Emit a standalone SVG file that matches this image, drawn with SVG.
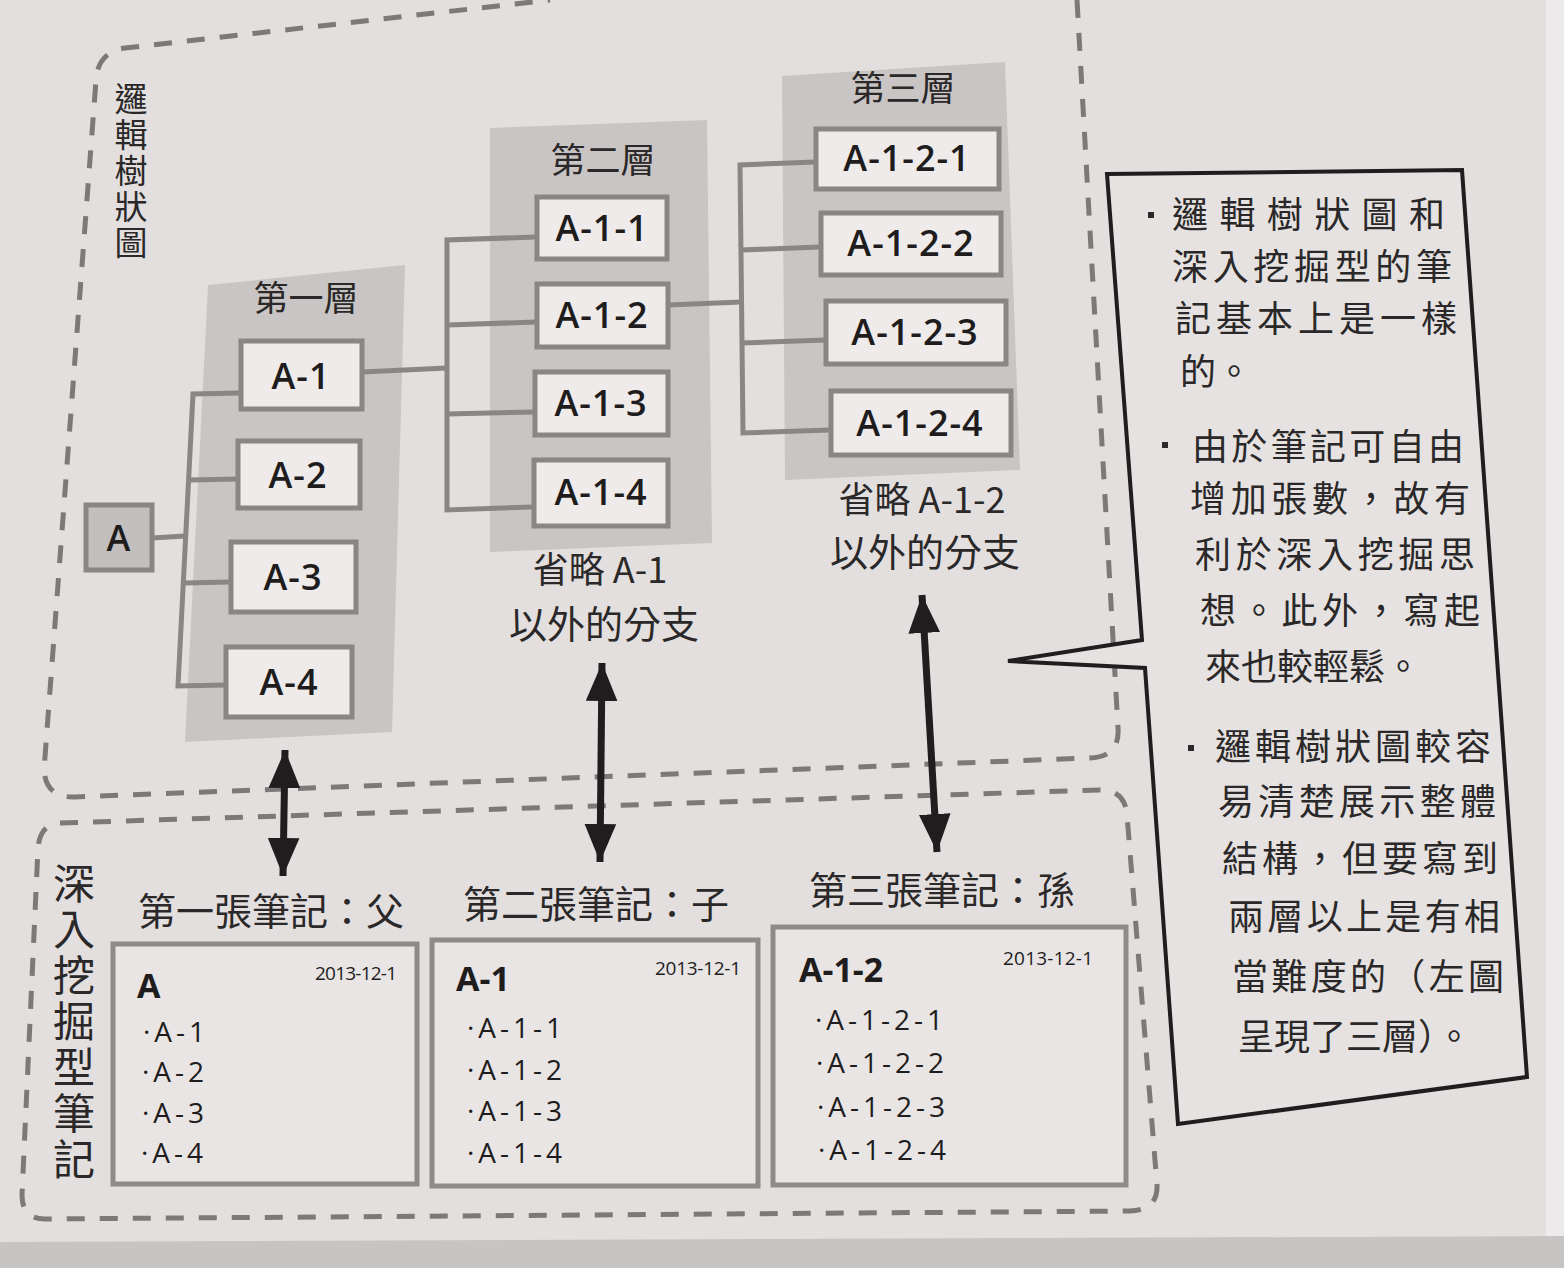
<svg xmlns="http://www.w3.org/2000/svg" width="1564" height="1268" viewBox="0 0 1564 1268">
<style>
.cjk{font-family:"Noto Sans CJK TC","Noto Sans CJK SC",sans-serif;fill:#2a2828}
.lat{font-family:"Open Sans","Noto Sans",sans-serif;fill:#1e1c1c}
.col{fill:#c9c5c4}
.node{fill:#eeebea;stroke:#8a8686;stroke-width:5}
.conn{fill:none;stroke:#8a8686;stroke-width:5}
.dash{fill:none;stroke:#7d7979;stroke-width:5;stroke-dasharray:18 15}
.arrow{stroke:#1f1d1d;stroke-width:7;marker-start:url(#ah);marker-end:url(#ah)}
.card{fill:#e8e5e4;stroke:#8f8b8a;stroke-width:5}
.nl{font-size:36px;font-weight:600;letter-spacing:1px;text-anchor:middle}
.it{font-size:28px;letter-spacing:4px}
.dt{font-size:19px}
.ct{font-size:36px}
.vt{writing-mode:vertical-rl}
</style>
<defs>
<marker id="ah" viewBox="0 0 12 10" refX="12" refY="5" markerWidth="38" markerHeight="32" markerUnits="userSpaceOnUse" orient="auto-start-reverse">
<path d="M0,0 L12,5 L0,10 z" fill="#1f1d1d"/>
</marker>
</defs>
<rect width="1564" height="1268" fill="#e3dfde"/>
<rect x="1546" y="0" width="18" height="1240" fill="#eceaea"/>
<polygon points="0,1242 1564,1236 1564,1268 0,1268" fill="#c7c4c4"/>

<!-- region boxes -->
<g id="logic-tree-region">
<path class="dash" d="M1077,0 L1118,728 Q1120,757 1090,758 L75,797 Q46,798 44,770 L96,80 Q98,52 125,48 L550,0"/>
<text class="cjk vt" font-size="33" letter-spacing="3" x="131" y="82">邏輯樹狀圖</text>
</g>
<g id="dig-notes-region">
<path class="dash" d="M60,823 L1100,790 Q1125,790 1127,815 L1157,1185 Q1158,1210 1130,1211 L45,1219 Q22,1219 22,1195 L38,848 Q40,824 60,823"/>
<text class="cjk vt" font-size="42" letter-spacing="4" x="74" y="862">深入挖掘型筆記</text>
</g>

<!-- level columns -->
<g id="level1">
<polygon class="col" points="208,285 405,265 392,732 185,742"/>
<text class="cjk" font-size="35" x="306" y="311" text-anchor="middle">第一層</text>
</g>
<g id="level2">
<polygon class="col" points="490,128 707,120 712,543 490,552"/>
<text class="cjk" font-size="35" x="603" y="173" text-anchor="middle">第二層</text>
</g>
<g id="level3">
<polygon class="col" points="782,76 1005,62 1020,470 785,480"/>
<text class="cjk" font-size="35" x="903" y="101" text-anchor="middle">第三層</text>
</g>

<!-- connectors -->
<g id="connectors">
<path class="conn" d="M152,538 L185,536"/>
<path class="conn" d="M240,393 L193,394 L178,686 L225,685"/>
<path class="conn" d="M190,480 L237,479"/>
<path class="conn" d="M184,583 L230,582"/>
<path class="conn" d="M362,372 L447,368"/>
<path class="conn" d="M536,237 L447,240 L447,510 L533,507"/>
<path class="conn" d="M447,325 L536,322"/>
<path class="conn" d="M447,414 L534,412"/>
<path class="conn" d="M668,305 L741,302"/>
<path class="conn" d="M815,162 L740,165 L743,433 L830,430"/>
<path class="conn" d="M741,250 L820,247"/>
<path class="conn" d="M742,343 L825,340"/>
<line class="arrow" x1="285" y1="750" x2="283" y2="876"/>
<line class="arrow" x1="602" y1="663" x2="600" y2="862"/>
<line class="arrow" x1="922" y1="595" x2="937" y2="852"/>
</g>

<!-- tree nodes -->
<g id="node-A"><rect x="86" y="505" width="66" height="65" fill="#c3bfbe" stroke="#8a8686" stroke-width="5"/><text class="lat nl" x="119" y="551">A</text></g>
<g id="node-A-1"><rect class="node" x="241" y="341" width="121" height="68"/><text class="lat nl" x="301" y="389">A-1</text></g>
<g id="node-A-2"><rect class="node" x="238" y="441" width="122" height="67"/><text class="lat nl" x="298" y="488">A-2</text></g>
<g id="node-A-3"><rect class="node" x="231" y="542" width="125" height="70"/><text class="lat nl" x="293" y="590">A-3</text></g>
<g id="node-A-4"><rect class="node" x="226" y="647" width="126" height="70"/><text class="lat nl" x="289" y="695">A-4</text></g>
<g id="node-A-1-1"><rect class="node" x="537" y="197" width="130" height="62"/><text class="lat nl" x="602" y="241">A-1-1</text></g>
<g id="node-A-1-2"><rect class="node" x="537" y="284" width="131" height="63"/><text class="lat nl" x="602" y="328">A-1-2</text></g>
<g id="node-A-1-3"><rect class="node" x="535" y="372" width="133" height="63"/><text class="lat nl" x="601" y="416">A-1-3</text></g>
<g id="node-A-1-4"><rect class="node" x="534" y="460" width="134" height="66"/><text class="lat nl" x="601" y="505">A-1-4</text></g>
<g id="node-A-1-2-1"><rect class="node" x="816" y="129" width="183" height="60"/><text class="lat nl" x="907" y="171">A-1-2-1</text></g>
<g id="node-A-1-2-2"><rect class="node" x="821" y="213" width="180" height="62"/><text class="lat nl" x="911" y="256">A-1-2-2</text></g>
<g id="node-A-1-2-3"><rect class="node" x="826" y="301" width="180" height="63"/><text class="lat nl" x="915" y="345">A-1-2-3</text></g>
<g id="node-A-1-2-4"><rect class="node" x="831" y="391" width="180" height="64"/><text class="lat nl" x="920" y="436">A-1-2-4</text></g>

<!-- captions -->
<g id="caption-level2">
<text class="cjk" font-size="36" x="600" y="583" text-anchor="middle">省略 A-1</text>
<text class="cjk" font-size="38" x="604" y="638" text-anchor="middle">以外的分支</text>
</g>
<g id="caption-level3">
<text class="cjk" font-size="36" x="922" y="513" text-anchor="middle">省略 A-1-2</text>
<text class="cjk" font-size="38" x="925" y="566" text-anchor="middle">以外的分支</text>
</g>

<!-- note cards -->
<g id="note1">
<text class="cjk" font-size="38" x="271" y="925" text-anchor="middle">第一張筆記：父</text>
<rect class="card" x="113" y="944" width="304" height="240"/>
<text class="lat" font-size="34" font-weight="700" x="137" y="998">A</text>
<text class="lat dt" x="315" y="980" textLength="82">2013-12-1</text>
<text class="lat it" x="143" y="1042">·A-1</text>
<text class="lat it" x="142" y="1082">·A-2</text>
<text class="lat it" x="142" y="1123">·A-3</text>
<text class="lat it" x="141" y="1163">·A-4</text>
</g>
<g id="note2">
<text class="cjk" font-size="38" x="596" y="918" text-anchor="middle">第二張筆記：子</text>
<rect class="card" x="432" y="940" width="326" height="246"/>
<text class="lat" font-size="34" font-weight="700" x="456" y="991">A-1</text>
<text class="lat dt" x="655" y="975" textLength="86">2013-12-1</text>
<text class="lat it" x="467" y="1038">·A-1-1</text>
<text class="lat it" x="467" y="1080">·A-1-2</text>
<text class="lat it" x="467" y="1121">·A-1-3</text>
<text class="lat it" x="467" y="1163">·A-1-4</text>
</g>
<g id="note3">
<text class="cjk" font-size="38" x="942" y="904" text-anchor="middle">第三張筆記：孫</text>
<rect class="card" x="773" y="927" width="353" height="258"/>
<text class="lat" font-size="34" font-weight="700" x="799" y="982">A-1-2</text>
<text class="lat dt" x="1003" y="965" textLength="90">2013-12-1</text>
<text class="lat it" x="815" y="1030">·A-1-2-1</text>
<text class="lat it" x="816" y="1073">·A-1-2-2</text>
<text class="lat it" x="817" y="1117">·A-1-2-3</text>
<text class="lat it" x="818" y="1160">·A-1-2-4</text>
</g>

<!-- callout -->
<g id="callout">
<polygon points="1107,174 1462,170 1527,1077 1178,1124 1145,668 1008,661 1142,640" fill="#e5e2e1" stroke="#1f1d1d" stroke-width="4" stroke-linejoin="miter"/>
<g class="cjk ct">
<rect x="1148" y="212" width="6" height="6" fill="#2a2828"/>
<text x="1172" y="228" textLength="273">邏輯樹狀圖和</text>
<text x="1172" y="280" textLength="280">深入挖掘型的筆</text>
<text x="1175" y="332" textLength="282">記基本上是一樣</text>
<text x="1180" y="385">的。</text>
<rect x="1162" y="442" width="6" height="6" fill="#2a2828"/>
<text x="1192" y="460" textLength="272">由於筆記可自由</text>
<text x="1190" y="512" textLength="280">增加張數，故有</text>
<text x="1195" y="568" textLength="280">利於深入挖掘思</text>
<text x="1200" y="624" textLength="280">想。此外，寫起</text>
<text x="1205" y="680">來也較輕鬆。</text>
<rect x="1188" y="745" width="6" height="6" fill="#2a2828"/>
<text x="1215" y="760" textLength="276">邏輯樹狀圖較容</text>
<text x="1218" y="815" textLength="278">易清楚展示整體</text>
<text x="1222" y="872" textLength="276">結構，但要寫到</text>
<text x="1228" y="930" textLength="272">兩層以上是有相</text>
<text x="1232" y="990" textLength="272">當難度的（左圖</text>
<text x="1238" y="1050">呈現了三層）。</text>
</g>
</g>
</svg>
